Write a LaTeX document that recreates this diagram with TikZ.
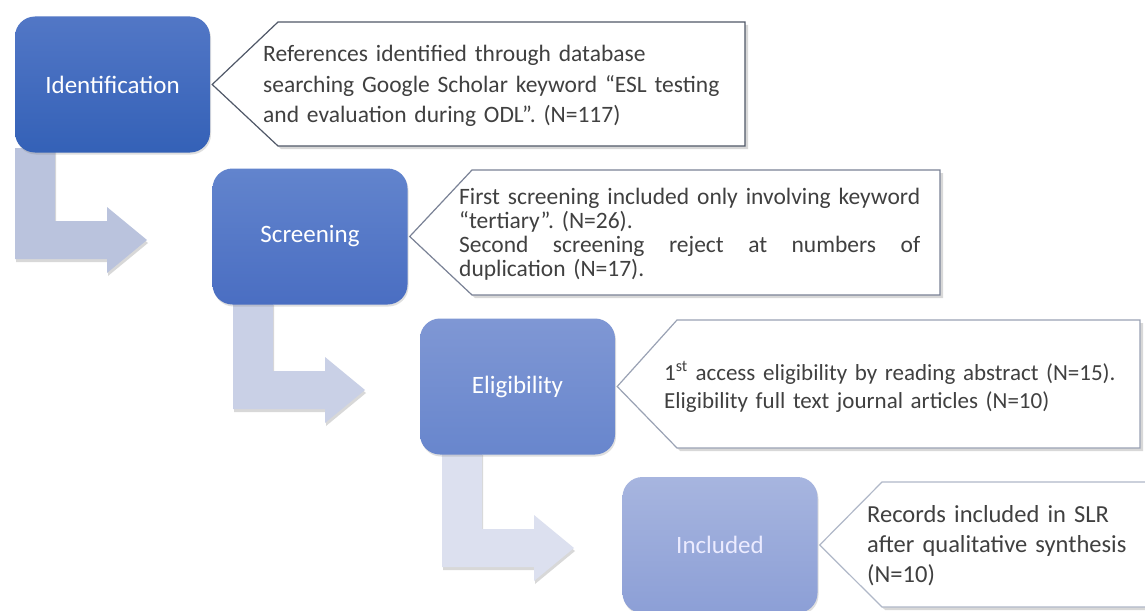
\documentclass[tikz,border=0pt]{standalone}
\usepackage{fontspec}
\setmainfont{Carlito}
\usetikzlibrary{shadows,calc}
\definecolor{bAtop}{HTML}{5277C6}
\definecolor{bAbot}{HTML}{3461B7}
\definecolor{bBtop}{HTML}{6284CD}
\definecolor{bBbot}{HTML}{4A6EC2}
\definecolor{bCtop}{HTML}{7F97D4}
\definecolor{bCbot}{HTML}{6886CD}
\definecolor{bDtop}{HTML}{A7B5DF}
\definecolor{bDbot}{HTML}{8C9FD6}
\definecolor{arA}{HTML}{BAC3DD}
\definecolor{arB}{HTML}{C9D0E6}
\definecolor{arC}{HTML}{DCE0EF}
\definecolor{edA}{HTML}{505868}
\definecolor{edB}{HTML}{7A8296}
\definecolor{edC}{HTML}{9AA2B4}
\definecolor{edD}{HTML}{B0B8C8}
\definecolor{txt}{HTML}{404040}
\frenchspacing
\begin{document}
\begin{tikzpicture}[x=1pt,y=-1pt,
  stepbox/.style={rectangle, rounded corners=20pt, minimum width=195pt, minimum height=136pt,
    inner sep=0pt, text=white, font=\fontsize{25}{30}\selectfont,
    drop shadow={opacity=0.25, shadow xshift=1pt, shadow yshift=-2pt}},
  callout/.style={line width=1.2pt, fill=white, line join=miter,
    drop shadow={opacity=0.3, shadow xshift=3pt, shadow yshift=-3pt}},
  bendarrow/.style={draw=none, drop shadow={opacity=0.3, shadow xshift=1pt, shadow yshift=-3pt}},
  ctext/.style={anchor=west, align=left, inner sep=0pt, text=txt}
]
\fill[white] (0,0) rectangle (1145,610);
\useasboundingbox (0,0) rectangle (1145,610);
\clip (0,0) rectangle (1145,610);

% bent arrows
\fill[bendarrow, arA] (15,148) -- (55,148) -- (55,221) -- (107,221) -- (107,207) -- (147,240)
  -- (107,273) -- (107,259) -- (15,259) -- cycle;
\fill[bendarrow, arB] (233,302) -- (273,302) -- (273,371) -- (325,371) -- (325,357) -- (365,390)
  -- (325,423) -- (325,409) -- (233,409) -- cycle;
\fill[bendarrow, arC] (442,452) -- (482,452) -- (482,529) -- (534,529) -- (534,515) -- (574,548)
  -- (534,581) -- (534,567) -- (442,567) -- cycle;

% step boxes
\node[stepbox, top color=bAtop, bottom color=bAbot] (B1) at (112.5,84.5) {Identification};
\node[stepbox, top color=bBtop, bottom color=bBbot] (B2) at (310,236.5) {Screening};
\node[stepbox, top color=bCtop, bottom color=bCbot] (B3) at (517.5,386.5) {Eligibility};
\node[stepbox, top color=bDtop, bottom color=bDbot, text={white!92!blue}] (B4) at (720,545) {Included};

% callouts
\draw[callout, draw=edA] ($(B1.east)+(2,0)$) -- (278,22) -- (745,22) -- (745,146) -- (278,146) -- cycle;
\draw[callout, draw=edB] ($(B2.east)+(2,0)$) -- (472,170) -- (940,170) -- (940,295) -- (472,295) -- cycle;
\draw[callout, draw=edC] ($(B3.east)+(2,0)$) -- (677,320) -- (1140,320) -- (1140,448) -- (677,448) -- cycle;
\draw[callout, draw=edD] ($(B4.east)+(2,0)$) -- (882,482) -- (1350,482) -- (1350,607) -- (882,607) -- cycle;

% callout texts
\node[ctext, text width=470pt, font=\fontsize{23.5}{30.5}\selectfont] (T1) at (263,86)
  {References identified through database\\
   searching Google Scholar keyword “ESL testing\\
   and evaluation during ODL”. (N=117)};
\node[ctext, text width=461pt, font=\fontsize{23.5}{24}\selectfont] (T2) at (459,234)
  {\leavevmode\hbox to 461pt{First\hfill screening\hfill included\hfill only\hfill involving\hfill keyword}\\
   “tertiary”. (N=26).\\
   \leavevmode\hbox to 461pt{Second\hfill screening\hfill reject\hfill at\hfill numbers\hfill of}\\
   duplication (N=17).};
\node[ctext, text width=520pt, font=\fontsize{23}{28}\selectfont] (T3) at (664,387)
  {1\textsuperscript{st} access eligibility by reading abstract (N=15).\\
   Eligibility full text journal articles (N=10)};
\node[ctext, text width=275pt, font=\fontsize{24.5}{30}\selectfont] (T4) at (867,546)
  {Records included in SLR\\
   after qualitative synthesis\\
   (N=10)};
\end{tikzpicture}
\end{document}
